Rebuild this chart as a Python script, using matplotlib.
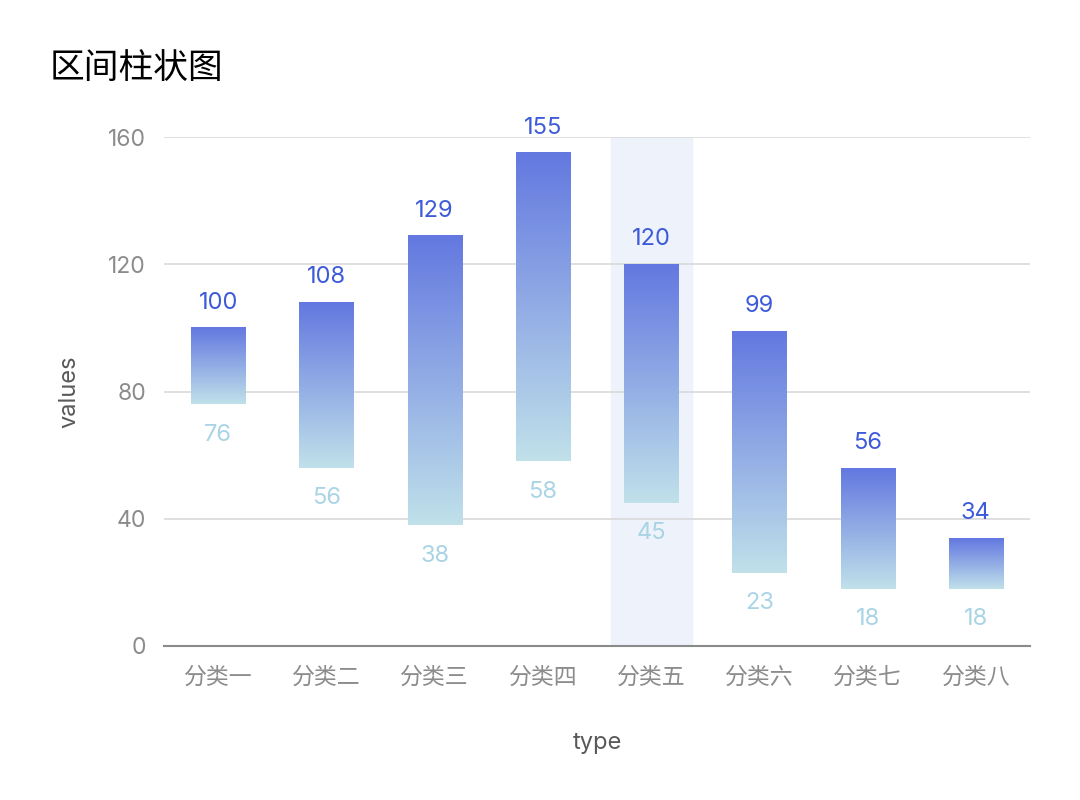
import numpy as np
import matplotlib
matplotlib.use("Agg")
import matplotlib.pyplot as plt
from matplotlib.colors import LinearSegmentedColormap

# latin/digits in Inter, chinese falls back to Noto CJK
plt.rcParams['font.family'] = ['Inter', 'Noto Sans CJK SC', 'DejaVu Sans']

categories = ["分类一", "分类二", "分类三", "分类四", "分类五", "分类六", "分类七", "分类八"]
low_values = [76, 56, 38, 58, 45, 23, 18, 18]
high_values = [100, 108, 129, 155, 120, 99, 56, 34]
y_ticks = [0, 40, 80, 120, 160]
active_index = 4

top_color = "#6378e0"
bottom_color = "#c0e1ea"
cmap = LinearSegmentedColormap.from_list("bar_grad", [bottom_color, top_color])

fig = plt.figure(figsize=(10.8, 8), dpi=100)
ax = fig.add_axes([164 / 1080, 1 - 646 / 800, 866 / 1080, 509 / 800])

x = np.arange(len(categories))
bar_w = 0.5

# highlighted column behind one category
ax.axvspan(active_index - 0.375, active_index + 0.375, color="#eef2fa", zorder=0)

grad = np.linspace(0, 1, 256).reshape(-1, 1)
for i in range(len(categories)):
    lo, hi = low_values[i], high_values[i]
    ax.imshow(grad, cmap=cmap, aspect="auto", origin="lower",
              extent=(x[i] - bar_w / 2, x[i] + bar_w / 2, lo, hi), zorder=3)
    ax.annotate(str(hi), (x[i], hi), xytext=(0, 18), textcoords="offset points",
                ha="center", va="center", fontsize=17, color="#3d5ad8", zorder=4)
    ax.annotate(str(lo), (x[i], lo), xytext=(0, -22), textcoords="offset points",
                ha="center", va="center", fontsize=17, color="#a9d4e5", zorder=4)

ax.set_xlim(-0.5, len(categories) - 0.5)
ax.set_ylim(0, 160)
ax.set_xticks(x)
ax.set_xticklabels(categories)
ax.set_yticks(y_ticks)
ax.tick_params(axis="both", length=0, labelsize=16.5, colors="#8c8c8c")
ax.tick_params(axis="x", pad=15)
ax.tick_params(axis="y", pad=13)

for t in y_ticks[1:]:
    ax.axhline(t, color="#d9d9d9", lw=1.2, zorder=1)

for side in ["top", "right", "left"]:
    ax.spines[side].set_visible(False)
ax.spines["bottom"].set_color("#8a8a8a")
ax.spines["bottom"].set_linewidth(1.5)
ax.spines["bottom"].set_zorder(5)

ax.set_xlabel("type", fontsize=17, color="#595959", labelpad=31)
ax.set_ylabel("values", fontsize=17, color="#595959", labelpad=20)

fig.text(50 / 1080, 1 - 69 / 800, "区间柱状图", fontsize=25, color="#000000",
         ha="left", va="center")

fig.savefig("out.png", dpi=100)
